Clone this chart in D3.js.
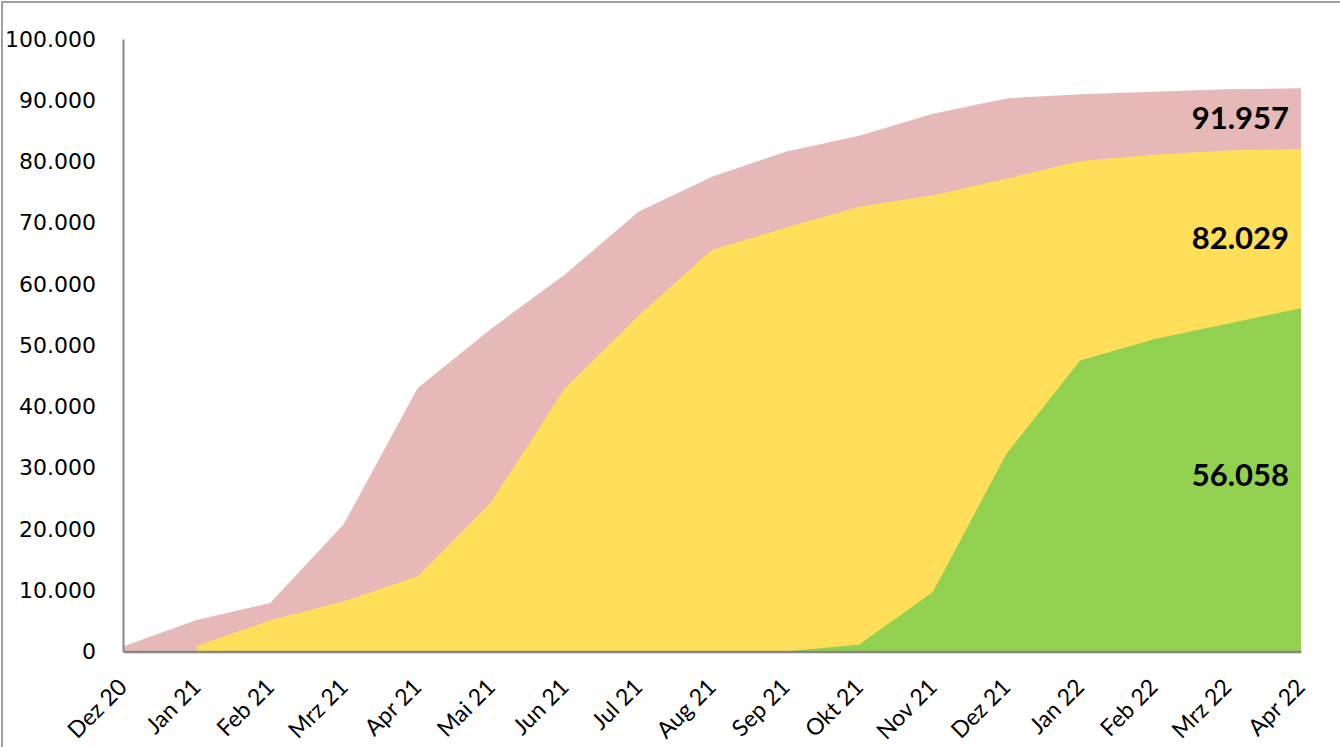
<!DOCTYPE html>
<html lang="de">
<head>
  <meta charset="UTF-8" />
  <title>Kumulierte Werte</title>
  <script src="https://d3js.org/d3.v7.min.js"></script>
  <style>
    body { margin: 0; background: #fff; }
    svg { display: block; }
    .ytick text { font-family: "DejaVu Sans", sans-serif; font-size: 22px; fill: #000; }
    .xtick text { font-family: Lato, "Open Sans", sans-serif; font-size: 23px; fill: #000; }
    .endlabel { font-family: Lato, sans-serif; font-weight: bold; font-size: 31px; fill: #000; }
  </style>
</head>
<body>
  <svg width="1340" height="747"></svg>
  <script>
    const months = ["Dez 20", "Jan 21", "Feb 21", "Mrz 21", "Apr 21", "Mai 21", "Jun 21", "Jul 21",
      "Aug 21", "Sep 21", "Okt 21", "Nov 21", "Dez 21", "Jan 22", "Feb 22", "Mrz 22", "Apr 22"];

    // overlapping areas, each measured from zero
    const redValues = [800, 5150, 7900, 20800, 43000, 52700, 61500, 71800, 77500, 81600,
      84200, 87800, 90300, 91000, 91400, 91800, 91957];
    const yellowValues = [null, 900, 5100, 8200, 12300, 24400, 43000, 54800, 65600, 69200,
      72600, 74500, 77200, 80100, 81100, 81800, 82029];
    const greenValues = [null, null, null, null, null, null, null, null, null, 0,
      1150, 9700, 32300, 47500, 51000, 53500, 56058];

    const yTicks = [0, 10000, 20000, 30000, 40000, 50000, 60000, 70000, 80000, 90000, 100000];

    const series = [
      { values: redValues, color: "#E6B8B7" },
      { values: yellowValues, color: "#FFDE59" },
      { values: greenValues, color: "#92D050" }
    ];

    const svg = d3.select("svg");
    const plotLeft = 123, plotRight = 1301, plotTop = 39, plotBottom = 651.5;

    const x = d3.scalePoint().domain(months).range([plotLeft, plotRight]);
    const y = d3.scaleLinear().domain([0, 100000]).range([plotBottom, plotTop]);

    const fmt = v => v === 0 ? "0" : d3.format(",")(v).replace(/,/g, ".");

    // outer frame
    svg.append("rect")
      .attr("x", 2).attr("y", 2).attr("width", 1400).attr("height", 800)
      .attr("fill", "none").attr("stroke", "#a0a0a0").attr("stroke-width", 2);

    const area = d3.area()
      .defined(d => d.v != null)
      .x(d => x(d.m))
      .y0(y(0))
      .y1(d => y(d.v));

    series.forEach(s => {
      svg.append("path")
        .datum(months.map((m, i) => ({ m, v: s.values[i] })))
        .attr("fill", s.color)
        .attr("d", area);
    });

    // y axis
    const yAxis = d3.axisLeft(y).tickValues(yTicks).tickFormat(fmt).tickSize(0).tickPadding(27);
    const gy = svg.append("g").attr("class", "ytick")
      .attr("transform", `translate(${plotLeft},0)`)
      .call(yAxis);
    gy.select(".domain").attr("stroke", "#868686").attr("stroke-width", 2);

    // x axis
    const xAxis = d3.axisBottom(x).tickSize(0).tickPadding(0);
    const gx = svg.append("g").attr("class", "xtick")
      .attr("transform", `translate(0,${plotBottom})`)
      .call(xAxis);
    gx.select(".domain").attr("stroke", "#868686").attr("stroke-width", 2.5);
    gx.selectAll("text")
      .attr("text-anchor", "end")
      .attr("dy", null)
      .attr("y", 0)
      .attr("transform", "translate(5,37) rotate(-45)");

    // end-of-series labels
    const endLabels = [
      { text: "91.957", v: 91957, dy: 33 },
      { text: "82.029", v: 82029, dy: 92 },
      { text: "56.058", v: 56058, dy: 170 }
    ];
    svg.selectAll(".endlabel")
      .data(endLabels)
      .enter()
      .append("text")
      .attr("class", "endlabel")
      .attr("text-anchor", "end")
      .attr("x", plotRight - 12)
      .attr("y", d => y(d.v) + d.dy)
      .attr("dominant-baseline", "middle")
      .text(d => d.text);
  </script>
</body>
</html>
